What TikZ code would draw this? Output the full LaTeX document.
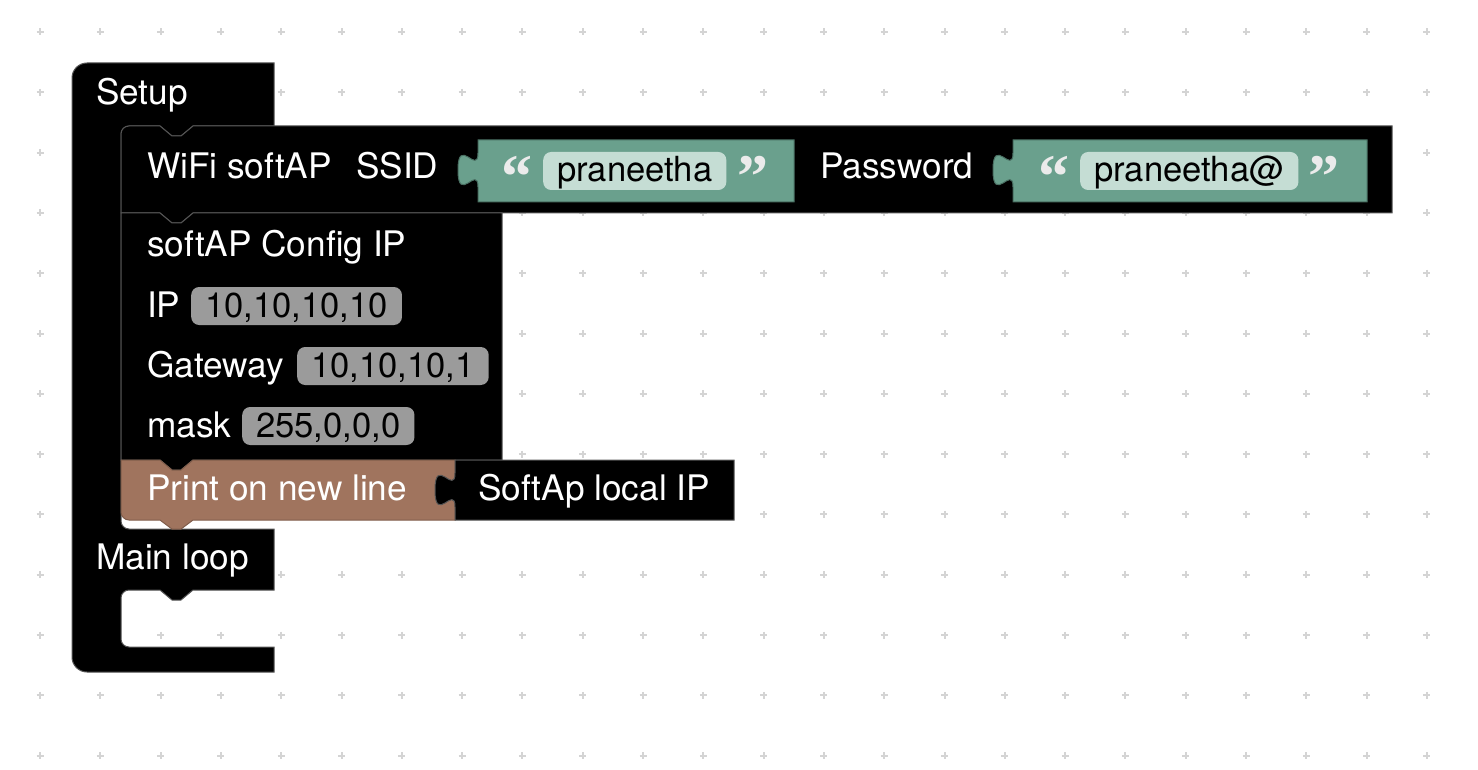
\documentclass[tikz,border=0pt]{standalone}
\usepackage{fontspec}
\setmainfont{TeX Gyre Heros}
\newfontfamily\quotefont{Liberation Serif}
\usepackage{xcolor}

\definecolor{stringgreen}{RGB}{106,160,141}
\definecolor{stringfield}{RGB}{197,221,212}
\definecolor{printbrown}{RGB}{160,116,94}
\definecolor{numgray}{RGB}{155,155,155}
\definecolor{edgegray}{RGB}{85,85,85}
\definecolor{dotgray}{RGB}{212,212,212}

\tikzset{
    gridmark/.style={draw=dotgray, line width=2pt},
    blackblock/.style={fill=black, draw=edgegray, line width=1pt},
    printblock/.style={fill=printbrown, draw=printbrown!80!black, line width=1pt},
    stringblock/.style={fill=stringgreen, draw=stringgreen!70!black, line width=1pt},
    blocklabel/.style={anchor=base west, inner sep=0pt, text=white, font=\fontsize{35.2}{40}\selectfont},
    numfield/.style={anchor=west, fill=numgray, rounded corners=8pt, inner xsep=14pt, inner ysep=4pt,
        text height=26pt, text depth=4pt, text=black, font=\fontsize{34.6}{40}\selectfont},
    strfield/.style={numfield, fill=stringfield},
    quotemark/.style={anchor=base west, inner sep=0pt, text=white!92!black, font=\quotefont\bfseries\fontsize{62}{66}\selectfont}
}

\begin{document}
\begin{tikzpicture}[x=1pt,y=-1pt]
        \useasboundingbox (0,0) rectangle (1478,770);
        \fill[white] (0,0) rectangle (1478,770);

        % Workspace grid
        \foreach \i in {0,...,23}
            \foreach \j in {0,...,12}
                \draw[gridmark] ({40+60.3*\i-3.5},{32+60.3*\j}) -- ++(7,0)
                    ({40+60.3*\i},{32+60.3*\j-3.5}) -- ++(0,7);

        % Setup / Main loop block
        \draw[blackblock] (72,78) arc[start angle=180,end angle=270,radius=15]
            -- (274,63) -- (274,126) -- (193,126) -- (181,136) -- (172,136) -- (160,126)
            -- (129,126) arc[start angle=270,end angle=180,radius=8]
            -- (121,521) arc[start angle=180,end angle=90,radius=8]
            -- (274,529) -- (274,590) -- (193,590) -- (181,600) -- (172,600) -- (160,590)
            -- (129,590) arc[start angle=270,end angle=180,radius=8]
            -- (121,639) arc[start angle=180,end angle=90,radius=8]
            -- (274,647) -- (274,672) -- (87,672) arc[start angle=90,end angle=180,radius=15]
            -- cycle;
        \node[blocklabel] (setup) at (96,105) {Setup};
        \node[blocklabel] (mainloop) at (96,569) {Main loop};

        % WiFi softAP block
        \draw[blackblock] (121,134) arc[start angle=180,end angle=270,radius=8]
            -- (160,126) -- (172,136) -- (181,136) -- (193,126) -- (1392,126) -- (1392,213)
            -- (193,213) -- (181,223) -- (172,223) -- (160,213) -- (121,213) -- cycle;
        \node[blocklabel] (wifi) at (147,179) {WiFi softAP};
        \node[blocklabel] (ssid) at (356,179) {SSID};
        \node[blocklabel] (pass) at (820,179) {Password};

        % SSID text block
        \draw[stringblock] (478,140) -- (794,140) -- (794,202) -- (478,202) -- (478,187)
            .. controls (478,164) and (458,205) .. (458,170)
            .. controls (458,135) and (478,176) .. (478,153) -- cycle;
        \node[quotemark] (ssidopen) at (501,198) {“};
        \node[strfield] (ssidval) at (543,171) {praneetha};
        \node[quotemark] (ssidclose) at (737,198) {”};

        % Password text block
        \draw[stringblock] (1013,140) -- (1367,140) -- (1367,202) -- (1013,202) -- (1013,187)
            .. controls (1013,164) and (993,205) .. (993,170)
            .. controls (993,135) and (1013,176) .. (1013,153) -- cycle;
        \node[quotemark] (passopen) at (1038,198) {“};
        \node[strfield] (passval) at (1080,171) {praneetha@};
        \node[quotemark] (passclose) at (1308,198) {”};

        % softAP Config IP block
        \draw[blackblock] (121,213) -- (160,213) -- (172,223) -- (181,223) -- (193,213)
            -- (502,213) -- (502,460) -- (193,460) -- (181,470) -- (172,470) -- (160,460)
            -- (121,460) -- cycle;
        \node[blocklabel] (config) at (147,257) {softAP Config IP};
        \node[blocklabel] (iplabel) at (147,317) {IP};
        \node[numfield] (ipval) at (191,306) {10,10,10,10};
        \node[blocklabel] (gwlabel) at (147,377) {Gateway};
        \node[numfield] (gwval) at (297,366) {10,10,10,1};
        \node[blocklabel] (masklabel) at (147,437) {mask};
        \node[numfield] (maskval) at (242,426) {255,0,0,0};

        % Print block
        \draw[printblock] (121,460) -- (160,460) -- (172,470) -- (181,470) -- (193,460)
            -- (455,460) -- (455,520) -- (193,520) -- (181,529) -- (172,529) -- (160,520)
            -- (129,520) arc[start angle=90,end angle=180,radius=8] -- cycle;
        \node[blocklabel] (print) at (147,500) {Print on new line};

        % SoftAp local IP block
        \draw[blackblock] (455,460) -- (734,460) -- (734,520) -- (455,520) -- (455,507)
            .. controls (455,484) and (435,525) .. (435,490)
            .. controls (435,455) and (455,496) .. (455,473) -- cycle;
        \node[blocklabel] (localip) at (478,500) {SoftAp local IP};

    \end{tikzpicture}
\end{document}
